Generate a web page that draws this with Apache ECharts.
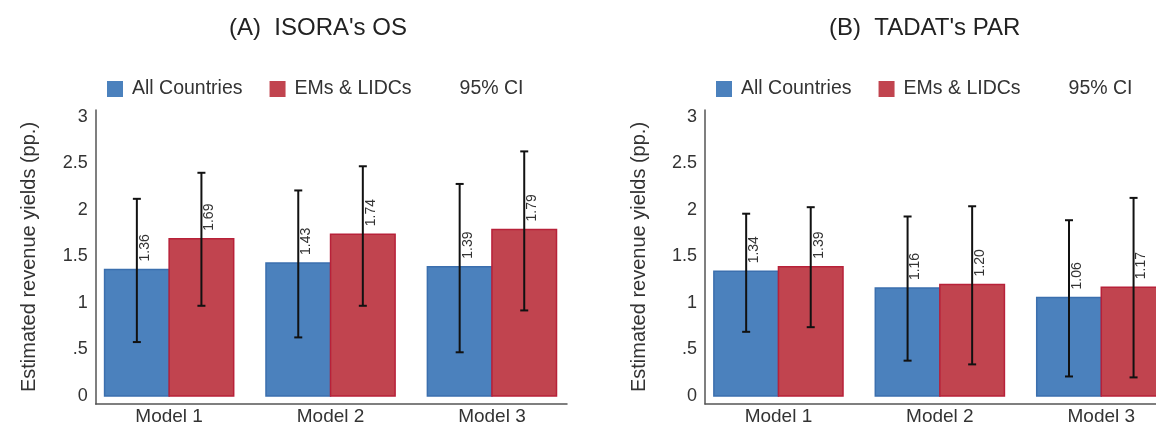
<!DOCTYPE html>
<html>
<head>
<meta charset="utf-8">
<script src="https://cdn.jsdelivr.net/npm/echarts@6/dist/echarts.min.js"></script>
<style>
  html, body { margin: 0; padding: 0; background: #fff; }
  #chart { width: 1156px; height: 428px; }
</style>
</head>
<body>
<div id="chart"></div>
<script>
// categories and ticks
var models = ['Model 1', 'Model 2', 'Model 3'];
var modelPos = [1, 2, 3];
var yTickValues = [0, 0.5, 1, 1.5, 2, 2.5, 3];
var yTickLabels = ['0', '.5', '1', '1.5', '2', '2.5', '3'];

// (A) ISORA's OS
var isoraAll = [1.36, 1.43, 1.39];
var isoraAllLo = [0.58, 0.63, 0.47];
var isoraAllHi = [2.12, 2.21, 2.28];
var isoraEm = [1.69, 1.74, 1.79];
var isoraEmLo = [0.97, 0.97, 0.92];
var isoraEmHi = [2.40, 2.47, 2.63];

// (B) TADAT's PAR
var tadatAll = [1.34, 1.16, 1.06];
var tadatAllLo = [0.69, 0.38, 0.21];
var tadatAllHi = [1.96, 1.93, 1.89];
var tadatEm = [1.39, 1.20, 1.17];
var tadatEmLo = [0.74, 0.34, 0.20];
var tadatEmHi = [2.03, 2.04, 2.13];

var FONT = '"Liberation Sans", Arial, sans-serif';
var BLUE = '#4b81bd', BLUE_EDGE = '#3b6fae';
var RED = '#c1444f', RED_EDGE = '#b82139';
var BAR_W = 0.4;

function pairs(vals) {
    return vals.map(function(v, i) { return [modelPos[i], v]; });
}
function triples(lo, hi) {
    return lo.map(function(v, i) { return [modelPos[i], v, hi[i]]; });
}

// bar + rotated value label
function barRender(offset, edge) {
    return function(params, api) {
        var x = api.value(0), v = api.value(1);
        var p0 = api.coord([x + offset, 0]);
        var p1 = api.coord([x + offset + BAR_W, v]);
        var cx = (p0[0] + p1[0]) / 2;
        return {
            type: 'group',
            children: [{
                type: 'rect',
                shape: { x: p0[0], y: p1[1], width: p1[0] - p0[0], height: p0[1] - p1[1] },
                style: { fill: api.visual('color'), stroke: edge, lineWidth: 1.5 }
            }, {
                type: 'text',
                x: cx + 1,
                y: p1[1] - 8,
                rotation: Math.PI / 2,
                style: {
                    text: v.toFixed(2),
                    fontSize: 14,
                    fontFamily: FONT,
                    fill: '#333',
                    align: 'left',
                    verticalAlign: 'top'
                }
            }]
        };
    };
}

// error bar with caps
function ciRender(offset) {
    return function(params, api) {
        var x = api.value(0) + offset + BAR_W / 2;
        var lo = api.coord([x, api.value(1)]);
        var hi = api.coord([x, api.value(2)]);
        var st = { stroke: '#111', lineWidth: 2 };
        return {
            type: 'group',
            children: [
                { type: 'line', shape: { x1: lo[0], y1: lo[1], x2: hi[0], y2: hi[1] }, style: st },
                { type: 'line', shape: { x1: lo[0] - 4, y1: lo[1], x2: lo[0] + 4, y2: lo[1] }, style: st },
                { type: 'line', shape: { x1: hi[0] - 4, y1: hi[1], x2: hi[0] + 4, y2: hi[1] }, style: st }
            ]
        };
    };
}

function panelSeries(idx, all, em, allLo, allHi, emLo, emHi) {
    return [{
        name: 'All Countries', type: 'custom', xAxisIndex: idx, yAxisIndex: idx,
        itemStyle: { color: BLUE, borderColor: BLUE_EDGE },
        renderItem: barRender(-BAR_W, BLUE_EDGE), data: pairs(all)
    }, {
        name: 'EMs & LIDCs', type: 'custom', xAxisIndex: idx, yAxisIndex: idx,
        itemStyle: { color: RED, borderColor: RED_EDGE },
        renderItem: barRender(0, RED_EDGE), data: pairs(em)
    }, {
        name: '95% CI', type: 'custom', xAxisIndex: idx, yAxisIndex: idx,
        itemStyle: { color: '#111' },
        renderItem: ciRender(-BAR_W), data: triples(allLo, allHi)
    }, {
        name: '95% CI', type: 'custom', xAxisIndex: idx, yAxisIndex: idx,
        itemStyle: { color: '#111' },
        renderItem: ciRender(0), data: triples(emLo, emHi)
    }];
}

// panel B is cut off at the right edge of the picture
function xAxis(idx, max) {
    return {
        type: 'value', gridIndex: idx, min: 0.545, max: max,
        splitLine: { show: false },
        axisTick: { show: false },
        axisLine: { onZero: false, lineStyle: { color: '#555', width: 1.5 } },
        axisLabel: {
            customValues: modelPos,
            formatter: function(v) { return models[modelPos.indexOf(v)]; },
            fontSize: 19, fontFamily: FONT, color: '#333', margin: 3
        }
    };
}

function yAxis(idx) {
    return {
        type: 'value', gridIndex: idx, min: -0.086, max: 3.075,
        name: 'Estimated revenue yields (pp.)',
        nameLocation: 'middle', nameGap: 56,
        nameTextStyle: { fontSize: 20, fontFamily: FONT, color: '#333' },
        splitLine: { show: false },
        axisTick: { show: false },
        axisLine: { show: true, onZero: false, lineStyle: { color: '#555', width: 1.5 } },
        axisLabel: {
            customValues: yTickValues,
            formatter: function(v) { return yTickLabels[yTickValues.indexOf(v)]; },
            fontSize: 18, fontFamily: FONT, color: '#333', margin: 8
        }
    };
}

function legend(left) {
    return {
        left: left, top: 79, orient: 'horizontal', padding: 0,
        itemWidth: 16, itemHeight: 16, itemGap: 27,
        selectedMode: false,
        textStyle: { fontSize: 19.5, fontFamily: FONT, color: '#333', padding: [0, 0, 0, 4] },
        data: [
            { name: 'All Countries', icon: 'rect' },
            { name: 'EMs & LIDCs', icon: 'rect' },
            { name: '95% CI', icon: 'none', textStyle: { padding: [0, 0, 0, 0] } }
        ]
    };
}

var chart = echarts.init(document.getElementById('chart'));
chart.setOption({
    backgroundColor: '#fff',
    animation: false,
    title: [
        { text: '(A)  ISORA\'s OS', left: 224, top: 11, textStyle: { fontSize: 24, fontWeight: 'normal', fontFamily: FONT, color: '#222' } },
        { text: '(B)  TADAT\'s PAR', left: 824, top: 11, textStyle: { fontSize: 24, fontWeight: 'normal', fontFamily: FONT, color: '#222' } }
    ],
    legend: [legend(107), legend(716)],
    grid: [
        { left: 95.7, top: 110, width: 471.3, height: 294 },
        { left: 705, top: 110, width: 451, height: 294 }
    ],
    xAxis: [xAxis(0, 3.465), xAxis(1, 3.339)],
    yAxis: [yAxis(0), yAxis(1)],
    series: panelSeries(0, isoraAll, isoraEm, isoraAllLo, isoraAllHi, isoraEmLo, isoraEmHi)
        .concat(panelSeries(1, tadatAll, tadatEm, tadatAllLo, tadatAllHi, tadatEmLo, tadatEmHi))
});
</script>
</body>
</html>
